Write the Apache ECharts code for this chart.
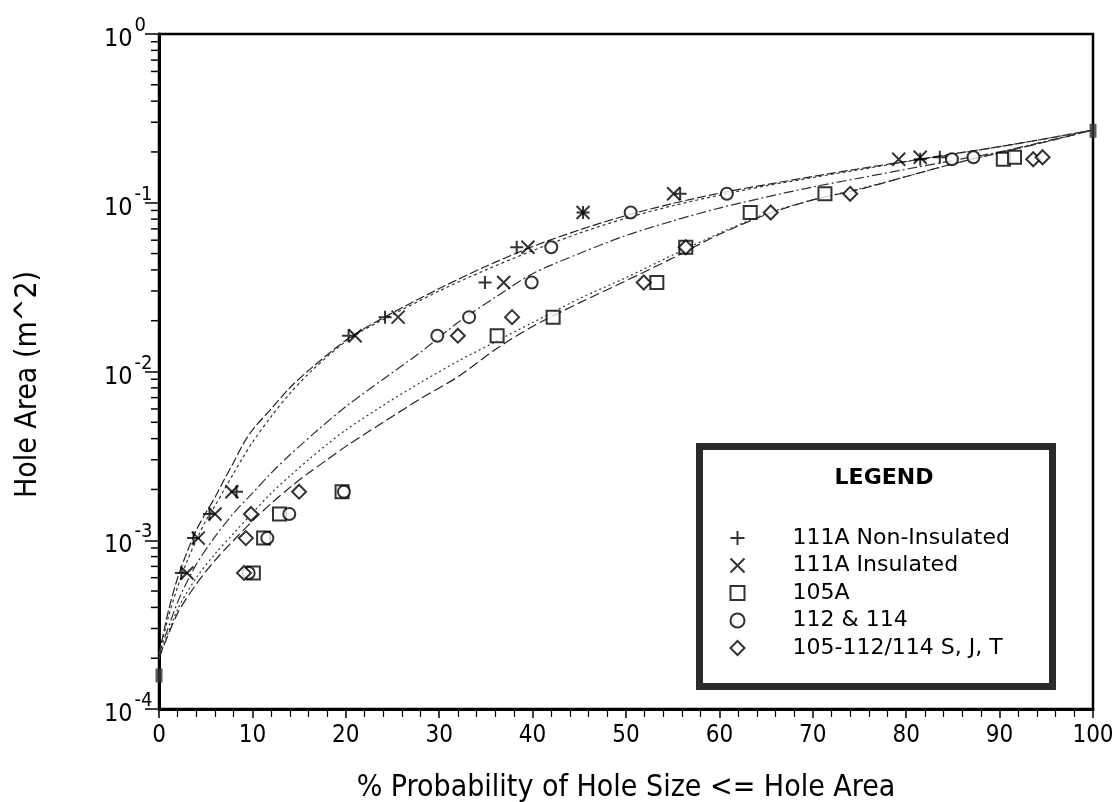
<!DOCTYPE html>
<html>
<head>
<meta charset="utf-8">
<script src="https://cdn.jsdelivr.net/npm/echarts@6/dist/echarts.min.js"></script>
<style>
  html, body { margin: 0; padding: 0; background: #fff; }
  #chart { width: 1118px; height: 802px; }
</style>
</head>
<body>
<div id="chart"></div>
<script>
// Hole-area classes (m^2), shared by every car group
const holeAreas = [6.4e-4, 1.03e-3, 1.43e-3, 1.94e-3, 1.63e-2, 2.1e-2, 3.37e-2, 5.45e-2, 8.75e-2, 0.113, 0.181, 0.186];

// Cumulative probability (%) of each hole-area class, per car group
const pct111ANonIns = [2.4, 3.7, 5.4, 8.3, 20.3, 24.2, 34.9, 38.3, 45.4, 55.8, 81.5, 83.6];
const pct111AIns    = [3.0, 4.2, 6.0, 7.8, 21.0, 25.6, 36.9, 39.5, 45.4, 55.1, 79.2, 81.5];
const pct105A       = [10.1, 11.2, 12.9, 19.6, 36.2, 42.2, 53.3, 56.4, 63.3, 71.3, 90.4, 91.6];
const pct112114     = [9.6, 11.6, 13.95, 19.8, 29.8, 33.2, 39.9, 42.0, 50.5, 60.8, 84.9, 87.2];
const pctSJT        = [9.1, 9.3, 9.85, 15.0, 32.0, 37.8, 51.9, 56.4, 65.5, 74.0, 93.6, 94.6];

// End anchors of the fitted distributions
const anchorPct  = [0, 100];
const anchorArea = [1.58e-4, 0.267];

// Fitted distribution curves (percent, area)
const fit111ANonInsPct  = [0, 1, 2, 3, 4, 5, 6, 7, 8, 9, 10, 12, 14, 16.5, 20.5, 24.5, 30, 35, 40, 45, 50, 55, 60, 65, 70, 75, 80, 85, 90, 95, 100];
const fit111ANonInsArea = [2.1e-4, 3.8e-4, 6.0e-4, 8.5e-4, 1.15e-3, 1.45e-3, 1.8e-3, 2.3e-3, 2.9e-3, 3.7e-3, 4.5e-3, 6.0e-3, 8.0e-3, 1.07e-2, 1.6e-2, 2.15e-2, 3.1e-2, 4.2e-2, 5.5e-2, 6.9e-2, 8.4e-2, 0.099, 0.114, 0.128, 0.143, 0.159, 0.176, 0.195, 0.215, 0.24, 0.27];

const fit111AInsPct  = [0, 1, 2, 3, 4, 5, 6, 7, 8, 9, 10, 12, 14, 16.5, 20.5, 24.5, 30, 35, 40, 45, 50, 55, 60, 65, 70, 75, 80, 85, 90, 95, 100];
const fit111AInsArea = [2.1e-4, 3.5e-4, 5.3e-4, 7.5e-4, 1.0e-3, 1.3e-3, 1.6e-3, 2.0e-3, 2.5e-3, 3.1e-3, 3.8e-3, 5.4e-3, 7.4e-3, 1.03e-2, 1.58e-2, 2.1e-2, 3.0e-2, 4.0e-2, 5.2e-2, 6.6e-2, 8.1e-2, 0.096, 0.111, 0.126, 0.141, 0.157, 0.175, 0.194, 0.215, 0.24, 0.27];

const fit112114Pct  = [0, 2, 4, 6, 8, 10, 12, 14, 17, 20, 24, 28, 32, 36, 40, 45, 50, 55, 60, 65, 70, 75, 80, 85, 90, 95, 100];
const fit112114Area = [2.1e-4, 4.3e-4, 7.2e-4, 1.05e-3, 1.45e-3, 1.9e-3, 2.5e-3, 3.2e-3, 4.5e-3, 6.2e-3, 9.0e-3, 1.3e-2, 1.95e-2, 2.75e-2, 3.8e-2, 5.0e-2, 6.4e-2, 7.8e-2, 9.3e-2, 0.108, 0.124, 0.14, 0.158, 0.178, 0.2, 0.232, 0.27];

const fit105APct  = [0, 2, 4, 6, 8, 10, 12, 14, 16, 18, 20, 24, 28, 32, 36, 40, 45, 50, 55, 60, 65, 70, 75, 80, 85, 90, 95, 100];
const fit105AArea = [2.0e-4, 3.7e-4, 5.5e-4, 7.6e-4, 1.0e-3, 1.3e-3, 1.65e-3, 2.05e-3, 2.5e-3, 3.0e-3, 3.6e-3, 5.0e-3, 6.9e-3, 9.3e-3, 1.35e-2, 1.85e-2, 2.55e-2, 3.45e-2, 4.7e-2, 6.5e-2, 8.5e-2, 0.104, 0.12, 0.143, 0.17, 0.198, 0.23, 0.27];

const fitSJTPct  = [0, 2, 4, 6, 8, 10, 12, 14, 16, 18, 20, 24, 28, 32, 36, 40, 45, 50, 55, 60, 65, 70, 75, 80, 85, 90, 95, 100];
const fitSJTArea = [2.0e-4, 3.9e-4, 6.0e-4, 8.3e-4, 1.1e-3, 1.45e-3, 1.9e-3, 2.4e-3, 3.0e-3, 3.7e-3, 4.5e-3, 6.3e-3, 8.6e-3, 1.15e-2, 1.5e-2, 1.95e-2, 2.7e-2, 3.6e-2, 4.9e-2, 6.6e-2, 8.6e-2, 0.104, 0.121, 0.143, 0.17, 0.198, 0.23, 0.27];

// Axis decorations
const xTicks = [0, 10, 20, 30, 40, 50, 60, 70, 80, 90, 100];
const decades = [-4, -3, -2, -1];
const minorSteps = [2, 3, 4, 5, 6, 7, 8, 9];

const names = ['111A Non-Insulated', '111A Insulated', '105A', '112 & 114', '105-112/114 S, J, T'];

const condensed = "'DejaVu Sans Condensed', 'Liberation Sans Narrow', 'Roboto Condensed', 'Noto Sans', sans-serif";
const legendFont = "'DejaVu Sans', sans-serif";

const zip = (xs, ys) => xs.map((x, i) => [x, ys[i]]);

const minorTickValues = [];
decades.forEach(d => minorSteps.forEach(m => minorTickValues.push([0, m * Math.pow(10, d)])));

const plusPath = 'path://M0,5L10,5M5,0L5,10';
const crossPath = 'path://M0,0L10,10M10,0L0,10';

const markerStyle = { color: '#fff', borderColor: '#000', borderWidth: 2 };
const strokeOnly = { color: 'none', borderColor: '#000', borderWidth: 2 };

function fitLine(name, data, dash, color, width) {
  return {
    name: name, type: 'line', data: data, smooth: 0.3, symbol: 'none', silent: true,
    lineStyle: { color: color, width: width || 1.2, type: dash }, z: 2
  };
}

const chart = echarts.init(document.getElementById('chart'), null, { renderer: 'canvas' });

chart.setOption({
  animation: false,
  backgroundColor: '#fff',
  grid: { left: 159, right: 25, top: 34, bottom: 93, outerBoundsMode: 'none',
    show: true, borderColor: '#000', borderWidth: 2.5, backgroundColor: 'transparent' },
  xAxis: {
    type: 'value', min: 0, max: 100, interval: 10,
    name: '% Probability of Hole Size <= Hole Area',
    nameLocation: 'middle', nameGap: 64,
    nameTextStyle: { fontFamily: condensed, fontSize: 30, color: '#000' },
    axisLine: { show: true, lineStyle: { color: '#000', width: 3 } },
    axisTick: { show: true, length: 9, lineStyle: { color: '#000', width: 1.5 } },
    minorTick: { show: true, splitNumber: 5, length: 8, lineStyle: { color: '#000', width: 1.2 } },
    splitLine: { show: false },
    axisLabel: { margin: 15, fontFamily: condensed, fontSize: 24, color: '#000',
      formatter: v => xTicks.includes(v) ? String(v) : '' }
  },
  yAxis: {
    type: 'log', logBase: 10, min: 1e-4, max: 1,
    name: 'Hole Area (m^2)',
    nameLocation: 'middle', nameGap: 116, nameRotate: 90,
    nameTextStyle: { fontFamily: condensed, fontSize: 30, color: '#000', padding: [0, 26, 0, 0] },
    axisLine: { show: true, lineStyle: { color: '#000', width: 3 } },
    axisTick: { show: true, length: 14, lineStyle: { color: '#000', width: 1.5 } },
    splitLine: { show: false },
    axisLabel: {
      align: 'left', margin: 55,
      formatter: v => '{b|10}{e|' + Math.round(Math.log10(v)) + '}',
      rich: {
        b: { fontFamily: condensed, fontSize: 25, lineHeight: 36, verticalAlign: 'bottom', color: '#000' },
        e: { fontFamily: condensed, fontSize: 20, lineHeight: 20, verticalAlign: 'top', color: '#000', padding: [0, 0, 0, 2] }
      }
    }
  },
  legend: {
    data: names, orient: 'vertical', left: 723, top: 522,
    itemWidth: 14, itemHeight: 14, itemGap: 5.5, selectedMode: false,
    textStyle: { fontFamily: legendFont, fontSize: 22, lineHeight: 22, color: '#000', padding: [0, 0, 0, 43] },
    z: 5
  },
  graphic: [
    { type: 'rect', z: 3, shape: { x: 699.5, y: 446.5, width: 353, height: 240 },
      style: { fill: '#fff', stroke: '#2b2b2b', lineWidth: 7 } },
    { type: 'text', z: 4, x: 884, y: 478,
      style: { text: 'LEGEND', font: "bold 22px 'DejaVu Sans', sans-serif", fill: '#000', align: 'center', verticalAlign: 'middle' } }
  ],
  series: [
    fitLine('fit 111A Non-Insulated', zip(fit111ANonInsPct, fit111ANonInsArea), [9, 3], '#222'),
    fitLine('fit 111A Insulated', zip(fit111AInsPct, fit111AInsArea), [3, 3], '#333'),
    fitLine('fit 105A', zip(fit105APct, fit105AArea), [10, 4], '#222'),
    fitLine('fit 112 & 114', zip(fit112114Pct, fit112114Area), [10, 3, 2, 3], '#333'),
    fitLine('fit 105-112/114 S, J, T', zip(fitSJTPct, fitSJTArea), [2, 3], '#333'),
    {
      name: 'minor ticks', type: 'custom', silent: true, clip: false, z: 6,
      data: minorTickValues,
      renderItem: (params, api) => {
        const p = api.coord([0, api.value(1)]);
        return { type: 'line', shape: { x1: p[0] - 8, y1: p[1], x2: p[0], y2: p[1] },
          style: { stroke: '#000', lineWidth: 1.5 } };
      }
    },
    { name: 'anchors', type: 'scatter', data: zip(anchorPct, anchorArea), symbol: 'rect', symbolSize: [7, 14],
      itemStyle: { color: '#333' }, z: 4, clip: false, silent: true },
    { name: names[0], type: 'scatter', data: zip(pct111ANonIns, holeAreas), symbol: plusPath, symbolSize: 13,
      itemStyle: strokeOnly, z: 5, silent: true },
    { name: names[1], type: 'scatter', data: zip(pct111AIns, holeAreas), symbol: crossPath, symbolSize: 13,
      itemStyle: strokeOnly, z: 5, silent: true },
    { name: names[2], type: 'scatter', data: zip(pct105A, holeAreas), symbol: 'rect', symbolSize: 13,
      itemStyle: markerStyle, z: 5, silent: true },
    { name: names[3], type: 'scatter', data: zip(pct112114, holeAreas), symbol: 'circle', symbolSize: 12,
      itemStyle: markerStyle, z: 5, silent: true },
    { name: names[4], type: 'scatter', data: zip(pctSJT, holeAreas), symbol: 'diamond', symbolSize: 14,
      itemStyle: markerStyle, z: 5, silent: true }
  ]
});
</script>
</body>
</html>
